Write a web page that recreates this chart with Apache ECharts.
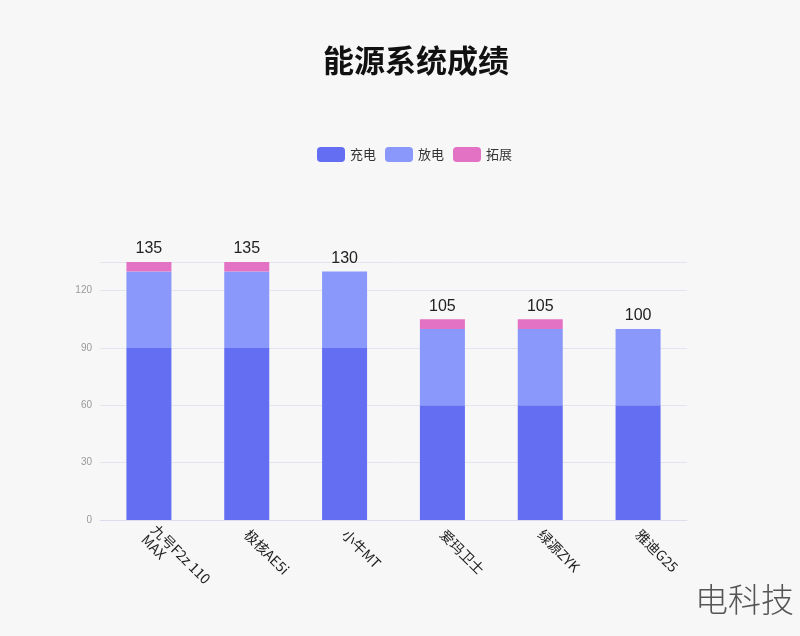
<!DOCTYPE html><html><head><meta charset="utf-8"><script src="https://cdn.jsdelivr.net/npm/echarts@6/dist/echarts.min.js"></script></head><body style="margin:0;background:#f7f7f7"><div id="c" style="width:800px;height:636px"></div><script>
var categories=['九号F2z 110\nMAX','极核AE5i','小牛MT','爱玛卫士','绿源ZYK','雅迪G25'];
var charge=[90,90,90,60,60,60];
var discharge=[40,40,40,40,40,40];
var extend=[5,5,0,5,5,0];
var yTicks=[0,30,60,90,120];
var totals=categories.map(function(_,i){return charge[i]+discharge[i]+extend[i];});
var ch=echarts.init(document.getElementById('c'));
ch.setOption({backgroundColor:'#f7f7f7',
title:{text:'能源系统成绩',left:318,top:40,textStyle:{fontSize:31,fontWeight:'bold',color:'#111',fontFamily:'Noto Sans CJK SC'}},
legend:{top:142,left:312,itemWidth:28,itemHeight:15,itemGap:9,textStyle:{fontSize:13,color:'#333',fontFamily:'Noto Sans CJK SC'}},
grid:{left:100,right:113,top:262,bottom:116},
xAxis:{type:'category',data:categories,axisTick:{show:false},axisLine:{lineStyle:{color:'#dde'}},axisLabel:{rotate:-45,margin:12,fontSize:14,color:'#222',interval:0,lineHeight:14,fontFamily:'Noto Sans CJK SC'}},
yAxis:{type:'value',min:0,max:135,interval:30,axisLabel:{color:'#999',fontSize:10,showMaxLabel:false},splitLine:{lineStyle:{color:'#e4e4ee'}}},
series:[
{name:'充电',type:'bar',stack:'a',barWidth:'46%',data:charge,itemStyle:{color:'#636ef2'}},
{name:'放电',type:'bar',stack:'a',data:discharge,itemStyle:{color:'#8a97fb'}},
{name:'拓展',type:'bar',stack:'a',data:extend,itemStyle:{color:'#e472c4'},label:{show:true,position:'top',fontSize:16,color:'#222',formatter:function(p){return totals[p.dataIndex];}}}
],
graphic:[{type:'text',right:6,bottom:20,style:{text:'电科技',fontSize:33,fill:'#555',fontFamily:'Noto Sans CJK SC',fontWeight:300}}]
});
</script></body></html>
